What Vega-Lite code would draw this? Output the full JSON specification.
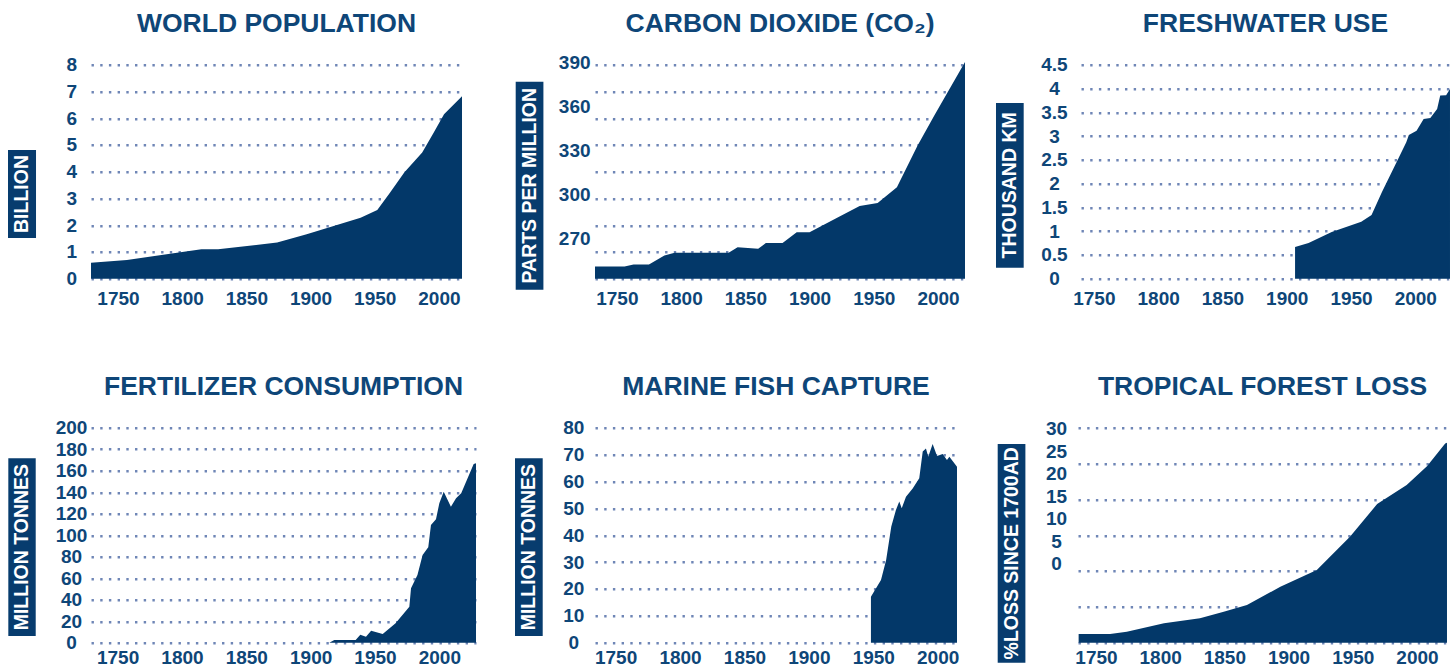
{
  "$schema": "https://vega.github.io/schema/vega-lite/v6.json",
  "padding": {"left": 7, "top": 10.7, "right": 0, "bottom": 0},
  "background": "white",
  "datasets": {
    "pop": [
      {"year": 1729, "v": 0.6}, {"year": 1757, "v": 0.7}, {"year": 1796, "v": 0.97}, {"year": 1815, "v": 1.1},
      {"year": 1828, "v": 1.1}, {"year": 1874, "v": 1.35}, {"year": 1897, "v": 1.66}, {"year": 1918, "v": 1.97},
      {"year": 1939, "v": 2.28}, {"year": 1952, "v": 2.57}, {"year": 1962, "v": 3.22}, {"year": 1973, "v": 3.97},
      {"year": 1987, "v": 4.72}, {"year": 1996, "v": 5.47}, {"year": 2004, "v": 6.15}, {"year": 2018, "v": 6.82}
    ],
    "co2": [
      {"year": 1733, "v": 276.9}, {"year": 1756, "v": 276.9}, {"year": 1763, "v": 278}, {"year": 1775, "v": 278},
      {"year": 1787, "v": 283}, {"year": 1795, "v": 284.5}, {"year": 1837, "v": 284.5}, {"year": 1844, "v": 287.7},
      {"year": 1860, "v": 286.8}, {"year": 1866, "v": 290}, {"year": 1879, "v": 290}, {"year": 1890, "v": 296.1},
      {"year": 1900, "v": 296.1}, {"year": 1920, "v": 303.6}, {"year": 1939, "v": 310.7}, {"year": 1953, "v": 312.4},
      {"year": 1968, "v": 321.3}, {"year": 1984, "v": 344.6}, {"year": 1997, "v": 361.4}, {"year": 2021, "v": 391.5}
    ],
    "water": [
      {"year": 1906.5, "v": 0.666}, {"year": 1917, "v": 0.75}, {"year": 1935, "v": 0.98}, {"year": 1958, "v": 1.2},
      {"year": 1966, "v": 1.34}, {"year": 1974, "v": 1.82}, {"year": 1986, "v": 2.48}, {"year": 1993, "v": 2.87},
      {"year": 1995, "v": 3.02}, {"year": 2001, "v": 3.11}, {"year": 2006.5, "v": 3.36}, {"year": 2011.7, "v": 3.38},
      {"year": 2017, "v": 3.57}, {"year": 2019.4, "v": 3.85}, {"year": 2024, "v": 3.86}, {"year": 2027, "v": 3.99}
    ],
    "fert": [
      {"year": 1914.5, "v": 0}, {"year": 1918.4, "v": 2.5}, {"year": 1935, "v": 2.5}, {"year": 1938.6, "v": 7.5},
      {"year": 1943, "v": 5.6}, {"year": 1947, "v": 11.2}, {"year": 1956, "v": 8.1}, {"year": 1966, "v": 18},
      {"year": 1976.7, "v": 33.5}, {"year": 1978, "v": 50.6}, {"year": 1983, "v": 63}, {"year": 1987, "v": 81.6},
      {"year": 1991.4, "v": 88.7}, {"year": 1993.5, "v": 109.5}, {"year": 1997.4, "v": 114.8}, {"year": 2000, "v": 129.7},
      {"year": 2003.4, "v": 140.5}, {"year": 2009, "v": 126.5}, {"year": 2013, "v": 134.3}, {"year": 2017, "v": 139},
      {"year": 2020.8, "v": 149.8}, {"year": 2026.7, "v": 166.2}, {"year": 2028.5, "v": 167}
    ],
    "fish": [
      {"year": 1948.2, "v": 17.1}, {"year": 1956, "v": 23.3}, {"year": 1960, "v": 30.8}, {"year": 1964, "v": 43.2},
      {"year": 1967.6, "v": 49.4}, {"year": 1970.2, "v": 52.5}, {"year": 1972.1, "v": 50}, {"year": 1975.4, "v": 54.3},
      {"year": 1980.6, "v": 57.4}, {"year": 1985.7, "v": 61.2}, {"year": 1988.4, "v": 71.1}, {"year": 1990.9, "v": 72.3},
      {"year": 1992.7, "v": 69.2}, {"year": 1996.1, "v": 73.9}, {"year": 1999.5, "v": 69.5}, {"year": 2003.9, "v": 70.2},
      {"year": 2007.2, "v": 68}, {"year": 2009.1, "v": 69.2}, {"year": 2015, "v": 65.5}
    ],
    "forest": [
      {"year": 1736.5, "v": 1.21}, {"year": 1761, "v": 1.21}, {"year": 1774, "v": 1.54}, {"year": 1803, "v": 2.7},
      {"year": 1831, "v": 3.4}, {"year": 1849.5, "v": 4.33}, {"year": 1867.6, "v": 5.26}, {"year": 1893.6, "v": 7.8},
      {"year": 1922, "v": 10.14}, {"year": 1948, "v": 14.8}, {"year": 1969, "v": 19.35}, {"year": 1992, "v": 22},
      {"year": 2008, "v": 24.65}, {"year": 2022, "v": 27.8}, {"year": 2023.4, "v": 27.9}
    ]
  },
  "spacing": 65,
  "bounds": "full",
  "vconcat": [
    {
      "hconcat": [
        {
          "title": {"text": "WORLD POPULATION"},
          "width": 371, "height": 214,
          "data": {"name": "pop"},
          "layer": [
            {"mark": {"type": "area", "color": "#033869"},
             "encoding": {
               "x": {"field": "year", "type": "quantitative", "scale": {"domain": [1729, 2018], "nice": false, "zero": false},
                     "axis": {"values": [1750, 1800, 1850, 1900, 1950, 2000], "format": "d", "grid": false, "title": null, "labelPadding": 10.6}},
               "y": {"field": "v", "type": "quantitative", "scale": {"domain": [0, 8], "nice": false, "zero": false},
                     "axis": {"values": [0, 1, 2, 3, 4, 5, 6, 7, 8], "format": ".2~f", "grid": true, "title": null, "labelPadding": 19.7}},
               "y2": {"datum": 0}
             }},
            {"data": {"values": [{}]}, "mark": {"type": "rect", "color": "#073c6e"},
             "encoding": {
               "x": {"datum": 1664.34, "type": "quantitative", "scale": {"domain": [1729, 2018], "nice": false, "zero": false}, "axis": null},
               "x2": {"datum": 1686.16},
               "y": {"datum": 4.811, "type": "quantitative", "scale": {"domain": [0, 8], "nice": false, "zero": false}, "axis": null},
               "y2": {"datum": 1.521}
             }},
            {"data": {"values": [{}]}, "mark": {"type": "text", "angle": 270, "align": "center", "baseline": "middle", "color": "white", "font": "Liberation Sans, Arial, sans-serif", "fontSize": 19.5, "fontWeight": "bold"},
             "encoding": {
               "x": {"datum": 1675.25, "type": "quantitative", "scale": {"domain": [1729, 2018], "nice": false, "zero": false}, "axis": null},
               "y": {"datum": 3.166, "type": "quantitative", "scale": {"domain": [0, 8], "nice": false, "zero": false}, "axis": null},
               "text": {"value": "BILLION"}
             }}
          ],
          "resolve": {"axis": {"x": "independent", "y": "independent"}}
        },
        {
          "title": {"text": "CARBON DIOXIDE (CO₂)", "offset": 15.6},
          "width": 370, "height": 214,
          "data": {"name": "co2"},
          "layer": [
            {"layer": [
              {"mark": {"type": "area", "color": "#033869"},
               "encoding": {
                 "x": {"field": "year", "type": "quantitative", "scale": {"domain": [1733, 2021], "nice": false, "zero": false},
                       "axis": {"values": [1750, 1800, 1850, 1900, 1950, 2000], "format": "d", "grid": false, "title": null, "labelPadding": 10.6}},
                 "y": {"field": "v", "type": "quantitative", "scale": {"domain": [270, 390], "nice": false, "zero": false},
                       "axis": {"values": [270, 285, 300, 315, 330, 345, 360, 375, 390], "grid": true, "labels": false, "title": null}},
                 "y2": {"datum": 270}
               }},
              {"data": {"values": [{}]}, "mark": {"type": "rect", "color": "#073c6e"},
               "encoding": {
                 "x": {"datum": 1671.27, "type": "quantitative", "scale": {"domain": [1733, 2021], "nice": false, "zero": false}, "axis": null},
                 "x2": {"datum": 1692.84},
                 "y": {"datum": 380.47, "type": "quantitative", "scale": {"domain": [270, 390], "nice": false, "zero": false}, "axis": null},
                 "y2": {"datum": 263.83}
               }},
              {"data": {"values": [{}]}, "mark": {"type": "text", "angle": 270, "align": "center", "baseline": "middle", "color": "white", "font": "Liberation Sans, Arial, sans-serif", "fontSize": 19.5, "fontWeight": "bold"},
               "encoding": {
                 "x": {"datum": 1682.05, "type": "quantitative", "scale": {"domain": [1733, 2021], "nice": false, "zero": false}, "axis": null},
                 "y": {"datum": 322.15, "type": "quantitative", "scale": {"domain": [270, 390], "nice": false, "zero": false}, "axis": null},
                 "text": {"value": "PARTS PER MILLION"}
               }}
            ],
             "resolve": {"axis": {"x": "independent", "y": "independent"}}},
            {"mark": {"type": "line", "opacity": 0},
             "encoding": {
               "x": {"field": "year", "type": "quantitative", "scale": {"domain": [1733, 2021], "nice": false, "zero": false}, "axis": null},
               "y": {"field": "v", "type": "quantitative", "scale": {"domain": [244.1, 390], "nice": false, "zero": false},
                     "axis": {"orient": "left", "values": [270, 300, 330, 360, 390], "format": ".2~f", "grid": false, "title": null, "labelPadding": 20.8, "labelOffset": -2.4, "minExtent": 112.3}}
             }}
          ],
          "resolve": {"scale": {"y": "independent"}, "axis": {"x": "independent", "y": "independent"}}
        },
        {
          "title": {"text": "FRESHWATER USE", "offset": 18},
          "width": 369, "height": 214,
          "data": {"name": "water"},
          "layer": [
            {"mark": {"type": "area", "color": "#033869"},
             "encoding": {
               "x": {"field": "year", "type": "quantitative", "scale": {"domain": [1740, 2027], "nice": false, "zero": false},
                     "axis": {"values": [1750, 1800, 1850, 1900, 1950, 2000], "format": "d", "grid": false, "title": null, "labelPadding": 10.6}},
               "y": {"field": "v", "type": "quantitative", "scale": {"domain": [0, 4.5], "nice": false, "zero": false},
                     "axis": {"values": [0, 0.5, 1, 1.5, 2, 2.5, 3, 3.5, 4, 4.5], "format": ".2~f", "grid": true, "title": null, "labelPadding": 27, "minExtent": 95.7}},
               "y2": {"datum": 0}
             }},
            {"data": {"values": [{}]}, "mark": {"type": "rect", "color": "#073c6e"},
             "encoding": {
               "x": {"datum": 1673.89, "type": "quantitative", "scale": {"domain": [1740, 2027], "nice": false, "zero": false}, "axis": null},
               "x2": {"datum": 1695.43},
               "y": {"datum": 3.695, "type": "quantitative", "scale": {"domain": [0, 4.5], "nice": false, "zero": false}, "axis": null},
               "y2": {"datum": 0.2313}
             }},
            {"data": {"values": [{}]}, "mark": {"type": "text", "angle": 270, "align": "center", "baseline": "middle", "color": "white", "font": "Liberation Sans, Arial, sans-serif", "fontSize": 19.5, "fontWeight": "bold"},
             "encoding": {
               "x": {"datum": 1684.66, "type": "quantitative", "scale": {"domain": [1740, 2027], "nice": false, "zero": false}, "axis": null},
               "y": {"datum": 1.963, "type": "quantitative", "scale": {"domain": [0, 4.5], "nice": false, "zero": false}, "axis": null},
               "text": {"value": "THOUSAND KM"}
             }}
          ],
          "resolve": {"axis": {"x": "independent", "y": "independent"}}
        }
      ],
      "spacing": 20,
      "bounds": "full"
    },
    {
      "hconcat": [
        {
          "title": {"text": "FERTILIZER CONSUMPTION"},
          "width": 385, "height": 215,
          "data": {"name": "fert"},
          "layer": [
            {"mark": {"type": "area", "color": "#033869"},
             "encoding": {
               "x": {"field": "year", "type": "quantitative", "scale": {"domain": [1729.34, 2028.5], "nice": false, "zero": false},
                     "axis": {"values": [1750, 1800, 1850, 1900, 1950, 2000], "format": "d", "grid": false, "title": null, "labelPadding": 6}},
               "y": {"field": "v", "type": "quantitative", "scale": {"domain": [0, 200], "nice": false, "zero": false},
                     "axis": {"values": [0, 20, 40, 60, 80, 100, 120, 140, 160, 180, 200], "format": ".2~f", "grid": true, "title": null, "labelPadding": 20}},
               "y2": {"datum": 0}
             }},
            {"data": {"values": [{}]}, "mark": {"type": "rect", "color": "#073c6e"},
             "encoding": {
               "x": {"datum": 1665.08, "type": "quantitative", "scale": {"domain": [1729.34, 2028.5], "nice": false, "zero": false}, "axis": null},
               "x2": {"datum": 1686.37},
               "y": {"datum": 171.53, "type": "quantitative", "scale": {"domain": [0, 200], "nice": false, "zero": false}, "axis": null},
               "y2": {"datum": 6.23}
             }},
            {"data": {"values": [{}]}, "mark": {"type": "text", "angle": 270, "align": "center", "baseline": "middle", "color": "white", "font": "Liberation Sans, Arial, sans-serif", "fontSize": 19.5, "fontWeight": "bold"},
             "encoding": {
               "x": {"datum": 1675.73, "type": "quantitative", "scale": {"domain": [1729.34, 2028.5], "nice": false, "zero": false}, "axis": null},
               "y": {"datum": 88.88, "type": "quantitative", "scale": {"domain": [0, 200], "nice": false, "zero": false}, "axis": null},
               "text": {"value": "MILLION TONNES"}
             }}
          ],
          "resolve": {"axis": {"x": "independent", "y": "independent"}}
        },
        {
          "title": {"text": "MARINE FISH CAPTURE", "offset": 18},
          "width": 362, "height": 215,
          "data": {"name": "fish"},
          "layer": [
            {"mark": {"type": "area", "color": "#033869"},
             "encoding": {
               "x": {"field": "year", "type": "quantitative", "scale": {"domain": [1734, 2015], "nice": false, "zero": false},
                     "axis": {"values": [1750, 1800, 1850, 1900, 1950, 2000], "format": "d", "grid": false, "title": null, "labelPadding": 6}},
               "y": {"field": "v", "type": "quantitative", "scale": {"domain": [0, 80], "nice": false, "zero": false},
                     "axis": {"values": [0, 10, 20, 30, 40, 50, 60, 70, 80], "format": ".2~f", "grid": true, "title": null, "labelPadding": 21.7, "minExtent": 99}},
               "y2": {"datum": 0}
             }},
            {"data": {"values": [{}]}, "mark": {"type": "rect", "color": "#073c6e"},
             "encoding": {
               "x": {"datum": 1671.9, "type": "quantitative", "scale": {"domain": [1734, 2015], "nice": false, "zero": false}, "axis": null},
               "x2": {"datum": 1693.4},
               "y": {"datum": 68.61, "type": "quantitative", "scale": {"domain": [0, 80], "nice": false, "zero": false}, "axis": null},
               "y2": {"datum": 2.49}
             }},
            {"data": {"values": [{}]}, "mark": {"type": "text", "angle": 270, "align": "center", "baseline": "middle", "color": "white", "font": "Liberation Sans, Arial, sans-serif", "fontSize": 19.5, "fontWeight": "bold"},
             "encoding": {
               "x": {"datum": 1682.65, "type": "quantitative", "scale": {"domain": [1734, 2015], "nice": false, "zero": false}, "axis": null},
               "y": {"datum": 35.55, "type": "quantitative", "scale": {"domain": [0, 80], "nice": false, "zero": false}, "axis": null},
               "text": {"value": "MILLION TONNES"}
             }}
          ],
          "resolve": {"axis": {"x": "independent", "y": "independent"}}
        },
        {
          "title": {"text": "TROPICAL FOREST LOSS", "offset": 19.3},
          "width": 369, "height": 215,
          "data": {"name": "forest"},
          "layer": [
            {"layer": [
              {"mark": {"type": "area", "color": "#033869"},
               "encoding": {
                 "x": {"field": "year", "type": "quantitative", "scale": {"domain": [1736, 2023.4], "nice": false, "zero": false},
                       "axis": {"values": [1750, 1800, 1850, 1900, 1950, 2000], "format": "d", "grid": false, "title": null, "labelPadding": 6}},
                 "y": {"field": "v", "type": "quantitative", "scale": {"domain": [0, 30], "nice": false, "zero": false},
                       "axis": {"values": [0, 5, 10, 15, 20, 25, 30], "grid": true, "labels": false, "title": null}},
                 "y2": {"datum": 0}
               }},
              {"data": {"values": [{}]}, "mark": {"type": "rect", "color": "#073c6e"},
               "encoding": {
                 "x": {"datum": 1673.46, "type": "quantitative", "scale": {"domain": [1736, 2023.4], "nice": false, "zero": false}, "axis": null},
                 "x2": {"datum": 1695.03},
                 "y": {"datum": 27.73, "type": "quantitative", "scale": {"domain": [0, 30], "nice": false, "zero": false}, "axis": null},
                 "y2": {"datum": -2.79}
               }},
              {"data": {"values": [{}]}, "mark": {"type": "text", "angle": 270, "align": "center", "baseline": "middle", "color": "white", "font": "Liberation Sans, Arial, sans-serif", "fontSize": 19.5, "fontWeight": "bold"},
               "encoding": {
                 "x": {"datum": 1684.25, "type": "quantitative", "scale": {"domain": [1736, 2023.4], "nice": false, "zero": false}, "axis": null},
                 "y": {"datum": 12.47, "type": "quantitative", "scale": {"domain": [0, 30], "nice": false, "zero": false}, "axis": null},
                 "text": {"value": "%LOSS SINCE 1700AD"}
               }}
            ],
             "resolve": {"axis": {"x": "independent", "y": "independent"}}},
            {"mark": {"type": "line", "opacity": 0},
             "encoding": {
               "x": {"field": "year", "type": "quantitative", "scale": {"domain": [1736, 2023.4], "nice": false, "zero": false}, "axis": null},
               "y": {"field": "v", "type": "quantitative", "scale": {"domain": [-17.49, 30.29], "nice": false, "zero": false},
                     "axis": {"orient": "left", "values": [0, 5, 10, 15, 20, 25, 30], "format": ".2~f", "grid": false, "title": null, "labelPadding": 22, "minExtent": 98.3}}
             }}
          ],
          "resolve": {"scale": {"y": "independent"}, "axis": {"x": "independent", "y": "independent"}}
        }
      ],
      "spacing": 20,
      "bounds": "full"
    }
  ],
  "config": {
    "view": {"stroke": null},
    "font": "Liberation Sans, Arial, sans-serif",
    "title": {"font": "Liberation Sans, Arial, sans-serif", "fontSize": 26.5, "fontWeight": "bold", "color": "#0e4678", "anchor": "middle", "frame": "group", "baseline": "alphabetic", "offset": 18},
    "axis": {"labelFont": "Liberation Sans, Arial, sans-serif", "labelFontSize": 19, "labelFontWeight": "bold", "labelColor": "#0e4678", "ticks": false, "tickSize": 0, "domain": false, "labelFlush": false, "labelOverlap": false, "labelBound": false, "gridColor": "#6f86b6", "gridWidth": 2.4, "gridDash": [2.4, 6.3], "gridOpacity": 1},
    "axisY": {"labelAlign": "center", "labelBaseline": "middle"}
  }
}
